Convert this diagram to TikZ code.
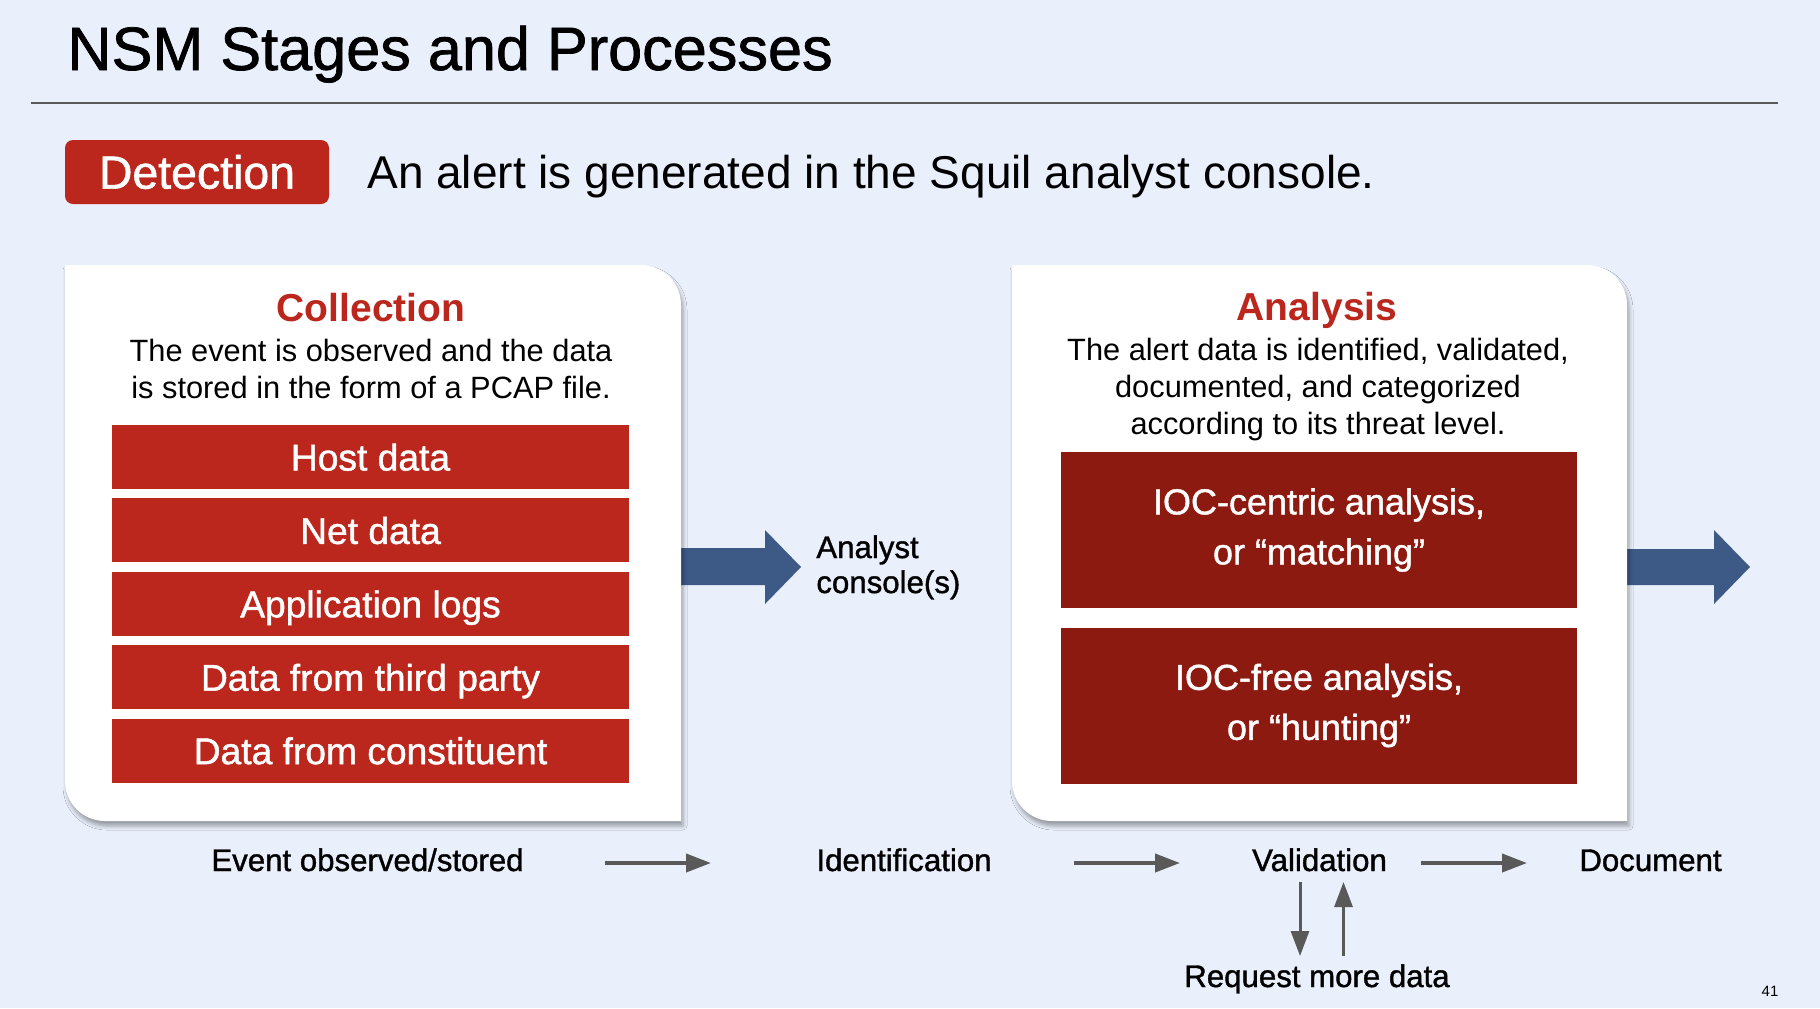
\documentclass[tikz,border=0pt]{standalone}
\usepackage{fontspec}
\setmainfont{Liberation Sans}
\newfontfamily\mediumfont{Liberation Sans}[FakeBold=1.2]
\usetikzlibrary{arrows.meta,shadows.blur}

\definecolor{pagebg}{RGB}{233,239,251}
\definecolor{itemred}{RGB}{187,38,29}
\definecolor{iocred}{RGB}{140,26,17}
\definecolor{arrowblue}{RGB}{61,90,135}
\definecolor{flowgray}{RGB}{89,89,89}
\definecolor{rulegray}{RGB}{90,90,90}

\tikzset{
  panel/.style={fill=white, blur shadow={shadow xshift=1pt, shadow yshift=-2.5pt, shadow blur radius=2pt, shadow opacity=35}},
  detbox/.style={fill=itemred, text=white, rounded corners=4pt, minimum width=132pt, minimum height=32pt, inner sep=0pt, font=\fontsize{23.2}{27}\mediumfont},
  itembox/.style={fill=itemred, text=white, minimum width=258.5pt, minimum height=32pt, inner sep=0pt, text height=13.5pt, text depth=0pt, font=\fontsize{18.6}{22}\mediumfont},
  iocbox/.style={fill=iocred, text=white, align=center, minimum width=258.25pt, minimum height=78pt, inner sep=0pt, font=\fontsize{18}{25}\mediumfont},
  stagehead/.style={text=itemred, inner sep=0pt, font=\fontsize{19.5}{23}\selectfont\bfseries},
  desc/.style={align=center, inner sep=0pt, font=\fontsize{15.4}{18.5}\selectfont},
  flowlabel/.style={inner sep=0pt, font=\fontsize{15.6}{18}\mediumfont},
  flow/.style={draw=flowgray, line width=2pt, -{Triangle[length=12.5pt,width=9pt]}},
  bigarrow/.style={fill=arrowblue}
}

\begin{document}
\begin{tikzpicture}[x=0.5pt, y=-0.5pt]
  \fill[pagebg] (0,0) rectangle (1820,1008);
  \useasboundingbox (0,0) rectangle (1820,1008);

  % heading
  \node[anchor=base west, inner sep=0pt, font=\fontsize{30.6}{36}\mediumfont] (title) at (67,70) {NSM Stages and Processes};
  \draw[rulegray, line width=1pt] (31,103) -- (1778,103);
  \node[detbox] (det) at (197,172) {Detection};
  \node[anchor=base west, inner sep=0pt, font=\fontsize{23}{27}\selectfont] (alert) at (367,188) {An alert is generated in the Squil analyst console.};

  % block arrows
  \path[bigarrow] (681,548) -- (765,548) -- (765,530) -- (801,567) -- (765,604) -- (765,585) -- (681,585) -- cycle;
  \path[bigarrow] (1627,549) -- (1714,549) -- (1714,530) -- (1750,567) -- (1714,604) -- (1714,585) -- (1627,585) -- cycle;

  % collection panel
  \path[panel] (65,265) -- (641,265) .. controls (663.1,265) and (681,282.9) .. (681,305) -- (681,821) -- (105,821) .. controls (82.9,821) and (65,803.1) .. (65,781) -- cycle;
  \node[stagehead, anchor=base] (collhead) at (371,321) {Collection};
  \node[desc, anchor=north] (colldesc) at (371,339) {The event is observed and the data\\is stored in the form of a PCAP file.};
  \foreach \lbl [count=\i from 0] in {Host data, Net data, Application logs, Data from third party, Data from constituent}
    \node[itembox] (item\i) at (370.5,457+73.4*\i) {\lbl};

  % analysis panel
  \path[panel] (1012,265) -- (1587,265) .. controls (1609.1,265) and (1627,282.9) .. (1627,305) -- (1627,821) -- (1052,821) .. controls (1029.9,821) and (1012,803.1) .. (1012,781) -- cycle;
  \node[stagehead, anchor=base] (anahead) at (1317,320) {Analysis};
  \node[desc, anchor=north] (anadesc) at (1318,338) {The alert data is identified, validated,\\documented, and categorized\\according to its threat level.};
  \node[iocbox] (ioc1) at (1319,530) {IOC-centric analysis,\\or “matching”};
  \node[iocbox] (ioc2) at (1319,705.5) {IOC-free analysis,\\or “hunting”};

  \node[flowlabel, align=left, anchor=north west, font=\fontsize{15.6}{17.5}\mediumfont] (console) at (816,535) {Analyst\\console(s)};

  % process row
  \node[flowlabel, anchor=base east] (event) at (524,871) {Event observed/stored};
  \node[flowlabel, anchor=base west] (ident) at (816,871) {Identification};
  \node[flowlabel, anchor=base] (valid) at (1319.5,871) {Validation};
  \node[flowlabel, anchor=base west] (docu) at (1579,871) {Document};
  \node[flowlabel, anchor=base] (req) at (1317,987) {Request more data};

  \draw[flow] ([shift={(81,-8)}]event.base east) -- ([shift={(-105,-8)}]ident.base west);
  \draw[flow] ([shift={(258,-8)}]ident.base west) -- ([shift={(-139.5,-8)}]valid.base);
  \draw[flow] ([shift={(101.5,-8)}]valid.base) -- ([shift={(-52,-8)}]docu.base west);
  \draw[flow, line width=1.5pt] ([shift={(-19.5,11)}]valid.base) -- ([shift={(-17,-31)}]req.base);
  \draw[flow, line width=1.5pt] ([shift={(26.5,-31)}]req.base) -- ([shift={(24,11)}]valid.base);

  \node[anchor=base, inner sep=0pt, font=\fontsize{7.5}{9}\selectfont] (pageno) at (1770,996) {41};
\end{tikzpicture}
\end{document}
